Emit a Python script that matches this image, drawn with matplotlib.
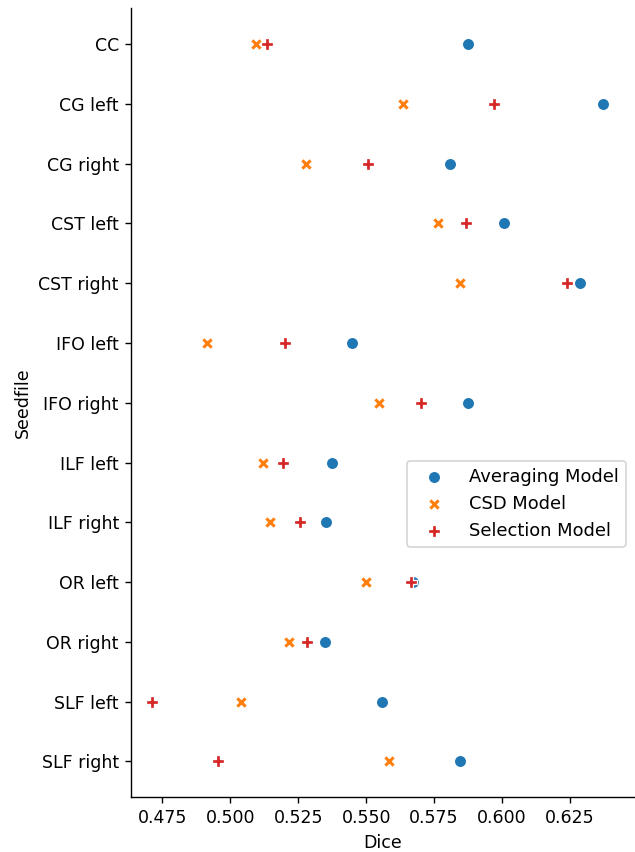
import numpy as np
import matplotlib.pyplot as plt

# Значения Dice по моделям
seedfiles = ['CC', 'CG left', 'CG right', 'CST left', 'CST right', 'IFO left', 'IFO right',
             'ILF left', 'ILF right', 'OR left', 'OR right', 'SLF left', 'SLF right']
averaging = [0.5876, 0.6371, 0.5807, 0.6006, 0.6287, 0.5448, 0.5873,
             0.5373, 0.5351, 0.5672, 0.5350, 0.5557, 0.5846]
csd = [0.5096, 0.5635, 0.5277, 0.5765, 0.5844, 0.4913, 0.5546,
       0.5119, 0.5146, 0.5501, 0.5217, 0.5039, 0.5583]
selection = [0.5135, 0.5972, 0.5508, 0.5866, 0.6238, 0.5203, 0.5703,
             0.5193, 0.5257, 0.5666, 0.5281, 0.4712, 0.4954]

models = [('Averaging Model', averaging, 'o', '#1f77b4'),
          ('CSD Model', csd, 'X', '#ff7f0e'),
          ('Selection Model', selection, 'P', '#d62728')]

dpi = 125
fig = plt.figure(figsize=(635 / dpi, 852 / dpi), dpi=dpi)
ax = fig.add_axes([131 / 635, 54.7 / 852, 504 / 635, 789 / 852])

y = np.arange(len(seedfiles))
for name, vals, marker, color in models:
    ax.scatter(vals, y, s=50, marker=marker, color=color, edgecolors='white',
               linewidths=0.75, label=name)

ax.set_yticks(y)
ax.set_yticklabels(seedfiles)
ax.set_ylim(len(seedfiles) - 0.4, -0.6)
ax.set_xticks([0.475, 0.5, 0.525, 0.55, 0.575, 0.6, 0.625])
ax.set_xlim(0.4635, 0.6489)
ax.set_xlabel('Dice')
ax.set_ylabel('Seedfile')
ax.spines['top'].set_visible(False)
ax.spines['right'].set_visible(False)

ax.legend(loc='center right', bbox_to_anchor=(1.0, 0.372), fontsize=10.3,
          handlelength=2.3)

fig.savefig('out.png', dpi=dpi)
